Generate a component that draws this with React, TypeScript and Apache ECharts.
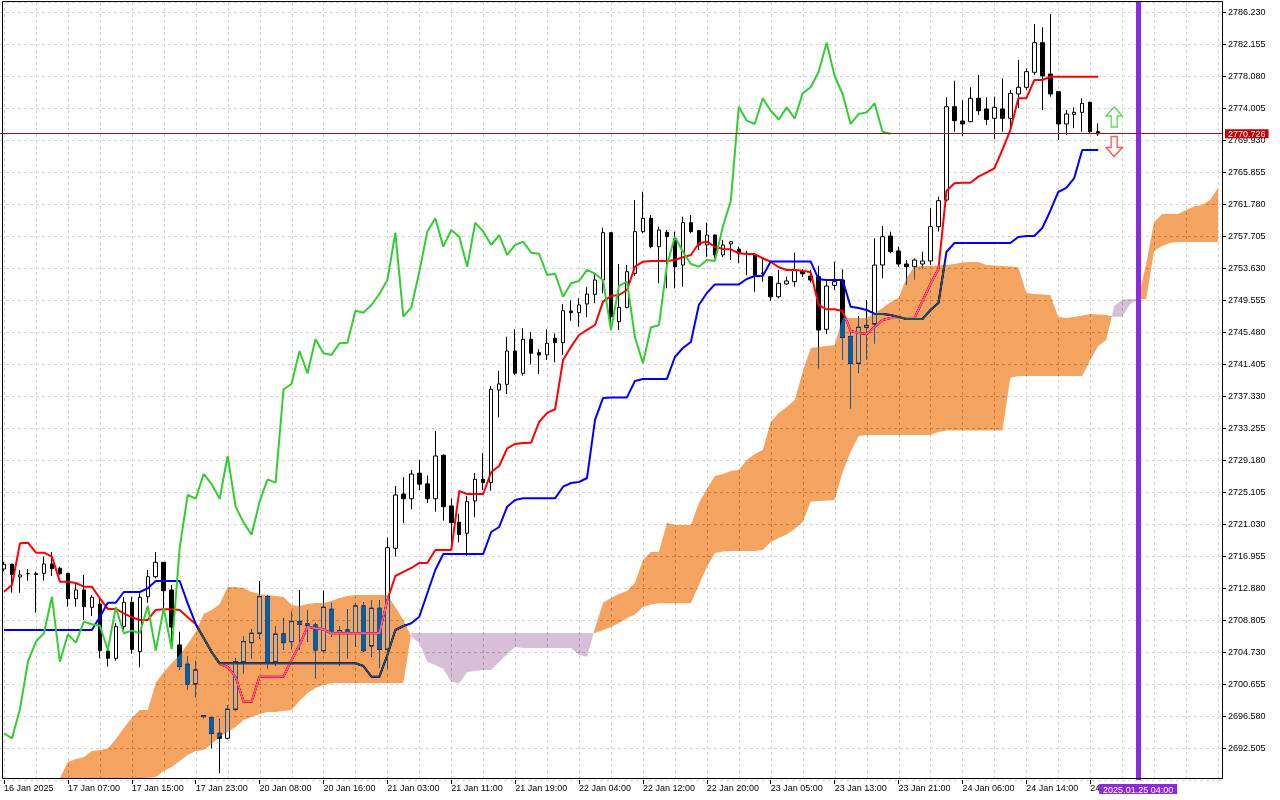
import React, { useEffect, useRef } from "react";
import * as echarts from "echarts";

// ---------- data ----------
const SLOTS = 153; // bar slots on the time axis (138 bars + projected cloud)

const tickLabels = [
  "16 Jan 2025", "17 Jan 07:00", "17 Jan 15:00", "17 Jan 23:00", "20 Jan 08:00",
  "20 Jan 16:00", "21 Jan 03:00", "21 Jan 11:00", "21 Jan 19:00", "22 Jan 04:00",
  "22 Jan 12:00", "22 Jan 20:00", "23 Jan 05:00", "23 Jan 13:00", "23 Jan 21:00",
  "24 Jan 06:00", "24 Jan 14:00", "24 Jan 22:00",
];
const LABEL_STEP = 8;

const opens = [
  2715.3, 2715.9, 2714.28, 2714.7, 2714.7, 2714.75, 2715.94, 2715.39, 2714.75, 2711.52,
  2712.63, 2710.42, 2710.84, 2704.86, 2703.93, 2707.96, 2711.06, 2704.77, 2711.77, 2714.32,
  2716.15, 2712.63, 2705.63, 2703.17, 2700.66, 2696.6, 2696.37, 2694.38, 2693.74, 2697.44,
  2703.5, 2705.92, 2707.12, 2711.77, 2703.5, 2707.03, 2706.05, 2708.59, 2708.3, 2708.17,
  2704.9, 2710.17, 2707.12, 2707.54, 2707.12, 2710.59, 2705.5, 2710.3, 2705.08, 2717.94,
  2724.85, 2724.25, 2727.5, 2726.14, 2724.25, 2729.78, 2723.33, 2721.25, 2719.85, 2723.96,
  2726.72, 2726.3, 2738.09, 2738.82, 2743.06, 2740.22, 2744.55, 2742.85, 2742.56, 2744.68,
  2744.12, 2748.15, 2747.94, 2749.05, 2750.28, 2752.1, 2758.13, 2746.79, 2748.62, 2752.96,
  2758.26, 2759.96, 2756.35, 2758.18, 2757.41, 2754.01, 2759.4, 2758.39, 2756.56, 2757.83,
  2755.29, 2756.69, 2756.03, 2755.5, 2755.29, 2753.0, 2752.52, 2749.97, 2751.6, 2751.89,
  2753.2, 2752.6, 2752.52, 2745.82, 2751.42, 2752.1, 2744.89, 2741.5, 2746.08, 2746.5,
  2754.01, 2757.7, 2755.8, 2754.14, 2753.8, 2754.14, 2754.52, 2758.89, 2762.29, 2774.17,
  2772.35, 2772.26, 2775.24, 2773.88, 2772.69, 2773.88, 2772.69, 2775.79, 2776.64, 2778.55,
  2782.32, 2778.33, 2776.08, 2771.97, 2773.2, 2773.45, 2774.73, 2771.0,
];
const highs = [
  2716.2, 2716.0, 2715.17, 2715.3, 2714.96, 2716.87, 2717.46, 2715.6, 2714.8, 2713.52,
  2714.54, 2711.99, 2711.5, 2704.9, 2708.39, 2711.77, 2711.77, 2712.2, 2715.17, 2717.46,
  2716.2, 2713.26, 2707.32, 2704.22, 2703.6, 2696.7, 2696.4, 2696.16, 2697.98, 2703.93,
  2706.68, 2707.62, 2713.77, 2712.0, 2708.04, 2709.02, 2709.86, 2712.63, 2710.08, 2708.38,
  2712.54, 2710.94, 2708.04, 2710.17, 2710.94, 2711.06, 2711.27, 2711.3, 2719.3, 2725.87,
  2727.0, 2727.9, 2729.18, 2727.2, 2732.87, 2729.9, 2724.3, 2722.31, 2724.6, 2727.5,
  2730.05, 2738.6, 2740.55, 2744.88, 2745.83, 2745.95, 2745.45, 2743.28, 2745.83, 2745.3,
  2749.05, 2749.5, 2749.77, 2751.17, 2752.87, 2758.77, 2758.2, 2754.14, 2754.01, 2762.29,
  2763.35, 2760.38, 2758.89, 2758.47, 2758.26, 2760.16, 2760.38, 2758.47, 2759.4, 2757.9,
  2757.2, 2757.0, 2756.35, 2755.8, 2755.4, 2755.0, 2752.6, 2753.38, 2752.52, 2755.58,
  2753.5, 2753.4, 2753.88, 2752.1, 2754.44, 2753.46, 2745.83, 2747.5, 2749.56, 2757.41,
  2758.98, 2758.26, 2756.35, 2754.65, 2754.86, 2755.71, 2761.23, 2762.71, 2775.37, 2777.48,
  2775.02, 2776.64, 2778.21, 2775.37, 2775.45, 2777.78, 2776.3, 2780.12, 2779.06, 2784.7,
  2784.28, 2785.98, 2776.1, 2773.75, 2774.09, 2775.24, 2774.81, 2772.05,
];
const lows = [
  2715.0, 2712.3, 2712.28, 2713.8, 2709.74, 2713.81, 2714.41, 2714.5, 2710.5, 2710.5,
  2708.8, 2709.32, 2703.93, 2702.9, 2703.63, 2707.5, 2704.5, 2702.78, 2711.0, 2714.1,
  2710.08, 2705.6, 2702.5, 2699.98, 2698.97, 2696.3, 2692.47, 2689.29, 2693.62, 2697.2,
  2702.02, 2703.93, 2706.44, 2702.65, 2703.0, 2704.99, 2705.08, 2704.99, 2706.05, 2701.38,
  2704.58, 2706.68, 2702.95, 2703.93, 2705.4, 2704.77, 2704.14, 2702.69, 2702.65, 2716.9,
  2721.14, 2722.9, 2725.36, 2723.7, 2722.6, 2721.46, 2718.57, 2718.7, 2716.96, 2721.9,
  2725.36, 2725.27, 2734.62, 2737.58, 2740.0, 2739.92, 2741.37, 2740.13, 2741.92, 2741.62,
  2742.56, 2746.92, 2746.15, 2747.35, 2749.14, 2750.41, 2745.73, 2745.73, 2748.49, 2752.6,
  2758.05, 2756.14, 2751.68, 2751.04, 2751.04, 2751.25, 2758.05, 2755.92, 2755.07, 2754.87,
  2755.0, 2754.65, 2754.23, 2752.7, 2750.6, 2751.9, 2749.46, 2749.77, 2751.47, 2751.25,
  2752.5, 2751.8, 2740.86, 2745.23, 2750.83, 2741.92, 2735.76, 2740.3, 2742.0, 2744.04,
  2752.32, 2755.5, 2753.8, 2751.47, 2752.19, 2753.59, 2754.01, 2758.26, 2762.1, 2770.99,
  2770.44, 2772.2, 2773.11, 2771.84, 2770.02, 2770.99, 2771.6, 2773.97, 2776.3, 2778.21,
  2773.75, 2775.45, 2769.93, 2770.57, 2771.42, 2770.99, 2770.78, 2770.44,
];
const closes = [
  2715.9, 2714.6, 2714.54, 2714.7, 2714.6, 2715.94, 2715.34, 2714.7, 2711.52, 2712.63,
  2710.5, 2711.7, 2704.9, 2703.93, 2707.96, 2711.06, 2705.07, 2711.7, 2714.32, 2716.15,
  2712.54, 2707.9, 2702.87, 2700.66, 2702.44, 2696.5, 2694.38, 2693.74, 2697.44, 2703.5,
  2706.05, 2707.12, 2711.77, 2703.5, 2707.0, 2705.92, 2708.6, 2708.26, 2708.08, 2704.99,
  2710.43, 2707.12, 2707.45, 2707.12, 2710.59, 2704.9, 2710.3, 2705.08, 2718.02, 2724.72,
  2724.25, 2727.4, 2726.1, 2724.25, 2729.69, 2723.24, 2721.2, 2719.68, 2723.87, 2726.72,
  2726.3, 2738.19, 2738.86, 2743.06, 2740.22, 2744.55, 2742.77, 2742.56, 2744.05, 2744.12,
  2748.19, 2747.94, 2748.92, 2750.32, 2752.1, 2758.13, 2747.43, 2748.62, 2753.16, 2758.26,
  2759.96, 2756.35, 2758.47, 2757.62, 2753.8, 2759.4, 2758.26, 2756.56, 2757.83, 2755.29,
  2756.56, 2756.98, 2755.58, 2755.45, 2752.74, 2752.9, 2749.97, 2751.68, 2751.98, 2753.38,
  2752.9, 2752.1, 2745.73, 2751.34, 2751.89, 2744.81, 2741.5, 2746.08, 2746.33, 2754.0,
  2757.62, 2755.71, 2754.14, 2753.8, 2754.65, 2754.52, 2758.89, 2762.2, 2774.17, 2772.39,
  2771.97, 2775.24, 2773.66, 2772.54, 2774.09, 2772.69, 2775.87, 2776.64, 2778.63, 2782.32,
  2778.08, 2775.79, 2771.97, 2773.24, 2773.45, 2774.6, 2770.99, 2770.726,
];

const tenkan = [
  2712.41, 2713.26, 2718.57, 2718.65, 2717.38, 2717.38, 2716.87, 2713.68, 2713.68, 2713.52,
  2713.05, 2713.05, 2711.57, 2710.21, 2710.21, 2709.66, 2709.15, 2708.81, 2708.81, 2710.08,
  2710.17, 2710.17, 2710.08, 2709.15, 2708.3, 2706.52, 2704.73, 2703.2, 2702.82, 2701.55,
  2698.4, 2698.4, 2701.59, 2701.59, 2701.59, 2701.59, 2703.71, 2705.62, 2707.95, 2707.75,
  2707.62, 2707.11, 2707.11, 2707.11, 2707.11, 2707.11, 2707.11, 2707.11, 2711.35, 2714.41,
  2714.92, 2715.43, 2716.07, 2716.07, 2717.72, 2717.72, 2717.72, 2725.23, 2724.85, 2724.85,
  2724.85, 2727.65, 2728.42, 2730.67, 2731.22, 2731.35, 2731.39, 2734.02, 2735.17, 2735.64,
  2741.92, 2743.61, 2745.1, 2745.74, 2746.37, 2749.34, 2750.07, 2750.19, 2750.83, 2753.8,
  2754.43, 2754.52, 2754.52, 2754.52, 2754.65, 2754.99, 2755.29, 2756.78, 2756.98, 2756.34,
  2756.05, 2756.01, 2755.5, 2755.41, 2755.41, 2754.87, 2754.43, 2753.72, 2753.38, 2753.38,
  2753.29, 2753.08, 2748.92, 2748.37, 2748.37, 2748.16, 2745.61, 2745.35, 2745.23, 2746.12,
  2747.01, 2747.26, 2747.26, 2747.26, 2747.26, 2749.43, 2751.59, 2753.5, 2763.44, 2764.42,
  2764.49, 2764.49, 2765.26, 2765.77, 2766.33, 2768.66, 2771.2, 2775.24, 2775.24, 2777.57,
  2777.57, 2777.99, 2777.99, 2777.99, 2777.99, 2777.99, 2777.99, 2777.99,
];
const kijun = [
  2707.53, 2707.53, 2707.53, 2707.53, 2707.53, 2707.53, 2707.53, 2707.53, 2707.53, 2707.53,
  2707.53, 2707.53, 2709.19, 2711.01, 2711.01, 2712.37, 2712.37, 2712.37, 2712.84, 2713.77,
  2713.77, 2713.77, 2713.77, 2710.93, 2708.3, 2706.52, 2704.73, 2703.29, 2703.29, 2703.29,
  2703.29, 2703.29, 2703.29, 2703.29, 2703.29, 2703.29, 2703.29, 2703.29, 2703.29, 2703.29,
  2703.29, 2703.29, 2703.29, 2703.29, 2703.29, 2702.95, 2701.59, 2701.59, 2704.35, 2707.53,
  2708.04, 2708.39, 2709.23, 2712.21, 2715.17, 2717.21, 2717.21, 2717.21, 2717.21, 2717.21,
  2717.21, 2720.01, 2720.65, 2723.24, 2724.09, 2724.3, 2724.3, 2724.3, 2724.3, 2724.3,
  2725.78, 2726.25, 2726.38, 2726.89, 2734.28, 2737.08, 2737.15, 2737.15, 2737.15, 2739.24,
  2739.5, 2739.5, 2739.5, 2739.5, 2742.3, 2743.44, 2744.21, 2748.92, 2750.45, 2751.54,
  2751.54, 2751.54, 2751.54, 2752.23, 2752.61, 2752.61, 2754.47, 2754.47, 2754.47, 2754.47,
  2754.47, 2754.47, 2752.19, 2752.1, 2752.1, 2752.1, 2748.69, 2748.54, 2748.28, 2747.81,
  2747.77, 2747.65, 2747.39, 2747.14, 2747.14, 2747.14, 2748.28, 2749.17, 2755.67, 2756.81,
  2756.81, 2756.81, 2756.81, 2756.81, 2756.81, 2756.81, 2756.81, 2757.58, 2757.71, 2757.71,
  2758.72, 2760.89, 2763.31, 2763.82, 2765.09, 2768.66, 2768.66, 2768.66,
];

const spanA = [
  null, null, null, null, null, null, null, 2687.8, 2690.73, 2691.11,
  2691.36, 2692.13, 2692.25, 2692.44, 2693.65, 2695.05, 2696.33, 2697.35, 2697.35, 2700.79,
  2702.19, 2703.33, 2704.35, 2705.75, 2707.28, 2709.57, 2710.08, 2710.85, 2713.01, 2713.01,
  2712.88, 2712.37, 2712.12, 2711.99, 2711.86, 2711.74, 2710.72, 2710.59, 2710.85, 2710.97,
  2710.97, 2711.23, 2711.61, 2711.86, 2711.99, 2711.99, 2711.99, 2711.99, 2711.99, 2710.46,
  2708.81, 2706.68, 2705.88, 2703.46, 2703.08, 2702.57, 2700.95, 2700.75, 2702.19, 2702.31,
  2702.44, 2702.44, 2703.46, 2704.48, 2705.37, 2705.24, 2705.24, 2705.24, 2705.24, 2705.24,
  2705.24, 2705.24, 2704.35, 2704.13, 2707.79, 2710.97, 2711.61, 2712.12, 2712.5, 2713.52,
  2716.45, 2717.47, 2717.47, 2721.16, 2720.9, 2720.9, 2720.9, 2723.71, 2725.49, 2727.14,
  2727.4, 2727.78, 2727.91, 2729.18, 2729.95, 2730.46, 2734.02, 2735.17, 2735.93, 2736.82,
  2740.39, 2743.44, 2743.57, 2743.7, 2743.83, 2747.26, 2747.26, 2747.26, 2747.26, 2747.9,
  2748.54, 2749.3, 2749.81, 2752.36, 2753.82, 2753.89, 2753.89, 2753.95, 2754.01, 2754.14,
  2754.33, 2754.4, 2754.4, 2754.01, 2753.95, 2753.89, 2753.82, 2753.72, 2750.45, 2750.32,
  2750.26, 2750.19, 2747.39, 2747.26, 2747.39, 2747.58, 2747.77, 2747.71, 2747.65, 2747.43,
  2747.43, 2749.05, 2749.62, 2754.14, 2759.49, 2760.51, 2760.51, 2760.51, 2761.02, 2761.46,
  2761.65, 2762.29, 2763.82,
];
const spanB = [
  null, null, null, null, null, null, null, 2685.89, 2685.89, 2685.89,
  2685.89, 2685.89, 2685.89, 2685.89, 2685.89, 2685.89, 2685.89, 2685.89, 2687.16, 2688.82,
  2689.58, 2690.09, 2690.85, 2691.62, 2692.13, 2692.25, 2693.02, 2693.91, 2694.55, 2695.18,
  2696.07, 2696.46, 2696.84, 2697.09, 2697.09, 2697.22, 2697.35, 2698.49, 2699.51, 2700.15,
  2700.53, 2700.79, 2700.79, 2700.79, 2700.79, 2700.79, 2700.79, 2700.79, 2700.79, 2700.79,
  2700.79, 2707.15, 2707.15, 2707.15, 2707.15, 2707.15, 2707.15, 2707.15, 2707.15, 2707.15,
  2707.15, 2707.15, 2707.15, 2707.15, 2707.15, 2707.15, 2707.15, 2707.15, 2707.15, 2707.15,
  2707.15, 2707.15, 2707.15, 2707.15, 2707.15, 2707.53, 2707.92, 2708.43, 2709.06, 2709.51,
  2710.46, 2710.78, 2710.93, 2710.93, 2710.93, 2710.93, 2710.93, 2713.26, 2715.56, 2717.34,
  2717.53, 2717.59, 2717.59, 2717.59, 2717.59, 2717.72, 2718.74, 2719.25, 2719.7, 2720.4,
  2721.29, 2723.9, 2723.96, 2724.02, 2724.09, 2727.65, 2730.2, 2732.24, 2732.37, 2732.37,
  2732.37, 2732.37, 2732.37, 2732.37, 2732.37, 2732.37, 2732.37, 2732.75, 2732.94, 2732.94,
  2732.94, 2732.94, 2732.94, 2732.94, 2732.94, 2732.94, 2739.62, 2739.88, 2739.88, 2739.88,
  2739.88, 2739.88, 2739.88, 2739.88, 2739.88, 2739.88, 2741.92, 2743.7, 2744.46, 2748.79,
  2749.62, 2749.68, 2749.68, 2749.65, 2755.8, 2756.43, 2756.81, 2756.94, 2756.94, 2756.94,
  2756.94, 2756.94, 2756.94,
];

const CHIKOU_SHIFT = 26;
const LAST_PRICE = 2770.726;
const MARKER_INDEX = 142;
const MARKER_LABEL = "2025.01.25 04:00";
const ARROW_INDEX = 139;
const ARROW_UP_PRICE = 2772.86;
const ARROW_DOWN_PRICE = 2769.1;

const Y_MIN = 2688.43;
const Y_MAX = 2787.503;
const Y_STEP = 4.075;
const CLOUD_FLOOR = 2688.68;
const GRID_STEP = 4;

// ---------- styling ----------
const FONT = "Liberation Sans";
const CLOUD_UP_INV = "#0b5b9f"; // inverse of sandybrown, drawn with difference blend
const CLOUD_DN_INV = "#274027"; // inverse of thistle
const UP_PATH = "path://M8,0L16,9L11,9L11,20L5,20L5,9L0,9Z";
const DOWN_PATH = "path://M5,0L11,0L11,11L16,11L8,20L0,11L5,11Z";

export default function App() {
  const ref = useRef<HTMLDivElement | null>(null);

  useEffect(() => {
    document.body.style.margin = "0";
    document.body.style.overflow = "hidden";
    const el = ref.current;
    if (!el) return;
    const chart = echarts.init(el, undefined, { renderer: "svg" });

    const cats = Array.from({ length: SLOTS }, (_, i) => String(i));
    const candleData = opens.map((o, i) => [o, closes[i], lows[i], highs[i]]);
    const chikou = cats.map((_, i) =>
      i + CHIKOU_SHIFT < closes.length ? closes[i + CHIKOU_SHIFT] : null
    );
    const gridIdx = cats.map((_, i) => i).filter((i) => i % GRID_STEP === 0);
    const showTick = (i: number) => i % LABEL_STEP === 0 && i / LABEL_STEP < tickLabels.length;

    const cloudRender = (params: any, api: any) => {
      if (params.dataIndex !== 0) return null;
      const polys: any[] = [];
      let cur: any = null;
      let prev: any = null;
      for (let i = 0; i < SLOTS; i++) {
        const a = spanA[i];
        const b = spanB[i];
        if (a == null || b == null) {
          if (cur) polys.push(cur);
          cur = null;
          prev = null;
          continue;
        }
        const pa = api.coord([i, Math.max(a, CLOUD_FLOOR)]);
        const pb = api.coord([i, Math.max(b, CLOUD_FLOOR)]);
        const d = a - b;
        const col = d >= 0 ? "up" : "dn";
        if (!cur) {
          cur = { col, top: [pa], bot: [pb] };
        } else if (col !== cur.col) {
          const t = prev.d / (prev.d - d);
          const ix = prev.pa[0] + t * (pa[0] - prev.pa[0]);
          const iy = prev.pa[1] + t * (pa[1] - prev.pa[1]);
          cur.top.push([ix, iy]);
          cur.bot.push([ix, iy]);
          polys.push(cur);
          cur = { col, top: [[ix, iy], pa], bot: [[ix, iy], pb] };
        } else {
          cur.top.push(pa);
          cur.bot.push(pb);
        }
        prev = { pa, pb, d };
      }
      if (cur) polys.push(cur);
      return {
        type: "group",
        children: polys.map((p) => ({
          type: "polygon",
          silent: true,
          shape: { points: p.top.concat(p.bot.slice().reverse()) },
          style: { fill: p.col === "up" ? CLOUD_UP_INV : CLOUD_DN_INV, stroke: null, lineWidth: 0 },
        })),
      };
    };

    const vgridRender = (params: any, api: any) => {
      const x = Math.round(api.coord([api.value(0), Y_MIN])[0]) + 0.5;
      const cs = params.coordSys;
      return {
        type: "line",
        silent: true,
        shape: { x1: x, y1: cs.y, x2: x, y2: cs.y + cs.height },
        style: { stroke: "#d6d6d6", lineWidth: 1, lineDash: [3, 3] },
      };
    };

    const option: any = {
      animation: false,
      backgroundColor: "#ffffff",
      textStyle: { fontFamily: FONT },
      grid: { left: -2, right: 58, top: 2, bottom: 20, containLabel: false },
      xAxis: {
        type: "category",
        data: cats,
        boundaryGap: true,
        axisLine: { show: false },
        axisTick: {
          show: true,
          alignWithLabel: true,
          interval: (i: number) => showTick(i),
          length: 4,
          lineStyle: { color: "#000" },
        },
        axisLabel: {
          interval: (i: number) => showTick(i),
          formatter: (v: string) => tickLabels[Number(v) / LABEL_STEP] || "",
          align: "left",
          margin: 3,
          color: "#000",
          fontFamily: FONT,
          fontSize: 9,
        },
        splitLine: { show: false },
      },
      yAxis: {
        type: "value",
        position: "right",
        min: Y_MIN,
        max: Y_MAX,
        interval: Y_STEP,
        axisLine: { show: false },
        axisTick: { show: true, length: 4, lineStyle: { color: "#000" } },
        axisLabel: {
          formatter: (v: number) => v.toFixed(3),
          showMinLabel: false,
          showMaxLabel: false,
          margin: 6,
          color: "#000",
          fontFamily: FONT,
          fontSize: 9,
        },
        splitLine: { show: true, lineStyle: { color: "#d6d6d6", type: [3, 3], width: 1 } },
      },
      series: [
        {
          type: "custom",
          name: "vgrid",
          z: 1,
          silent: true,
          data: gridIdx.map((i) => [i, Y_MIN]),
          renderItem: vgridRender,
        },
        {
          type: "candlestick",
          name: "XAUUSD,H1",
          z: 2,
          silent: true,
          barWidth: 4,
          data: candleData,
          itemStyle: {
            color: "#ffffff",
            color0: "#000000",
            borderColor: "#000000",
            borderColor0: "#000000",
            borderWidth: 1,
          },
        },
        {
          type: "line",
          name: "Tenkan-sen",
          z: 3,
          silent: true,
          symbol: "none",
          data: tenkan,
          lineStyle: { color: "#ff0000", width: 2 },
        },
        {
          type: "line",
          name: "Kijun-sen",
          z: 3,
          silent: true,
          symbol: "none",
          data: kijun,
          lineStyle: { color: "#0000ff", width: 2 },
        },
        {
          type: "line",
          name: "Chikou Span",
          z: 3,
          silent: true,
          symbol: "none",
          data: chikou,
          lineStyle: { color: "#32cd32", width: 2 },
        },
        {
          type: "custom",
          name: "Kumo",
          z: 4,
          silent: true,
          data: [[0, Y_MIN]],
          renderItem: cloudRender,
        },
        {
          type: "scatter",
          name: "signals",
          z: 6,
          silent: true,
          symbolSize: [16, 20],
          data: [
            {
              value: [String(ARROW_INDEX), ARROW_UP_PRICE],
              symbol: UP_PATH,
              itemStyle: { color: "#ffffff", borderColor: "#3ccf3c", borderWidth: 1.5 },
            },
            {
              value: [String(ARROW_INDEX), ARROW_DOWN_PRICE],
              symbol: DOWN_PATH,
              itemStyle: { color: "#ffffff", borderColor: "#ff3030", borderWidth: 1.5 },
            },
          ],
          markLine: {
            silent: true,
            symbol: ["none", "none"],
            animation: false,
            data: [
              {
                xAxis: String(MARKER_INDEX),
                lineStyle: { color: "#8a2be2", width: 5, type: "solid" },
                label: {
                  show: true,
                  position: "start",
                  formatter: MARKER_LABEL,
                  color: "#ffffff",
                  backgroundColor: "#8a2be2",
                  padding: [1, 4, 0, 4],
                  lineHeight: 9,
                  distance: 4,
                  fontFamily: FONT,
                  fontSize: 9,
                },
              },
              {
                yAxis: LAST_PRICE,
                lineStyle: { color: "#a81010", width: 1, type: "solid" },
                label: {
                  show: true,
                  position: "end",
                  formatter: LAST_PRICE.toFixed(3),
                  color: "#ffffff",
                  backgroundColor: "#c80000",
                  padding: [0, 3],
                  lineHeight: 9,
                  distance: 3,
                  fontFamily: FONT,
                  fontSize: 9,
                },
              },
            ],
          },
        },
      ],
      graphic: [
        {
          type: "rect",
          silent: true,
          z: 100,
          shape: { x: 2.5, y: 1.5, width: 1220, height: 777 },
          style: { fill: "none", stroke: "#000000", lineWidth: 1 },
        },
      ],
    };

    const applyBlend = () => {
      const root = ref.current;
      if (!root) return;
      root.querySelectorAll("path").forEach((p) => {
        const f = (p.getAttribute("fill") || "").replace(/\s/g, "").toLowerCase();
        if (
          f === CLOUD_UP_INV ||
          f === CLOUD_DN_INV ||
          f === "rgb(11,91,159)" ||
          f === "rgb(39,64,39)"
        ) {
          (p as unknown as SVGElement).style.mixBlendMode = "difference";
        }
      });
    };
    chart.on("finished", applyBlend);
    chart.setOption(option);
    applyBlend();
    const t1 = setTimeout(applyBlend, 60);
    const t2 = setTimeout(applyBlend, 400);

    return () => {
      clearTimeout(t1);
      clearTimeout(t2);
      chart.dispose();
    };
  }, []);

  return <div ref={ref} style={{ width: 1280, height: 800 }} />;
}
